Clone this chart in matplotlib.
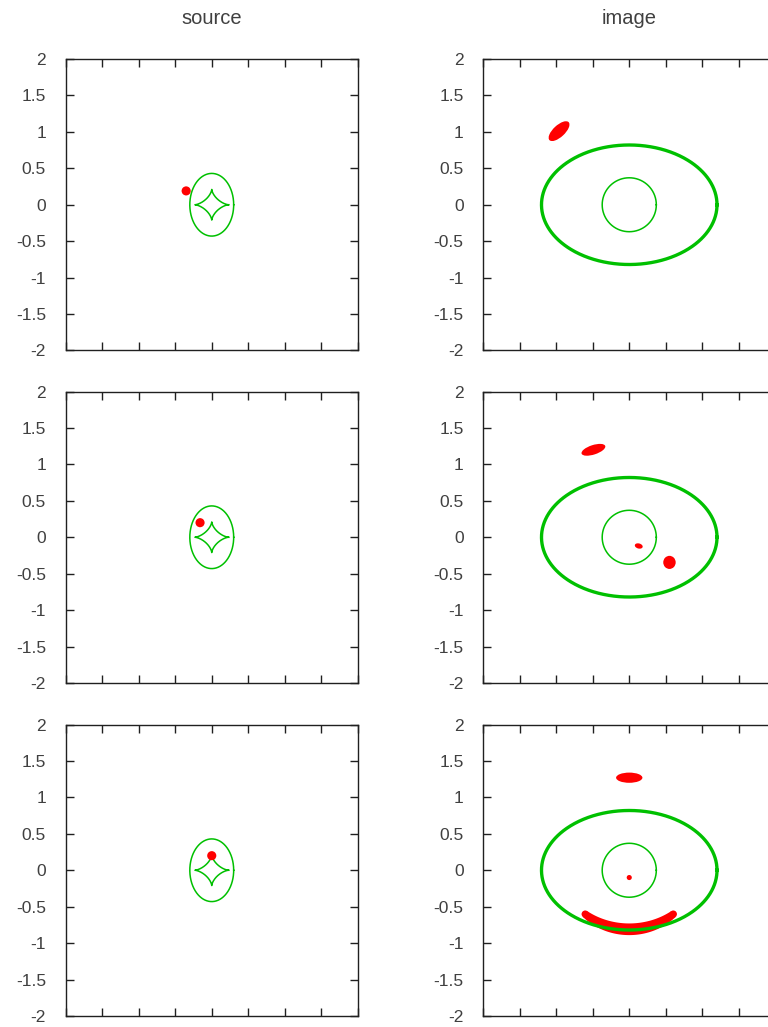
import numpy as np
import matplotlib
matplotlib.use("Agg")
import matplotlib.pyplot as plt
from matplotlib.patches import Ellipse, Polygon

plt.rcParams['font.family'] = ['Liberation Sans', 'DejaVu Sans']

# ---------------- data ----------------
col_titles = ["source", "image"]
tick_values = [-2, -1.5, -1, -0.5, 0, 0.5, 1, 1.5, 2]
tick_labels = ["-2", "-1.5", "-1", "-0.5", "0", "0.5", "1", "1.5", "2"]

# caustics in the source plane
caustic_ellipse_axes = (0.30, 0.43)      # semi-axes (x, y)
caustic_astroid_axes = (0.23, 0.21)      # half-widths (x, y)
# critical curves in the image plane
critical_outer_axes = (1.20, 0.82)
critical_inner_radius = 0.37

# source positions per row
source_x = [-0.35, -0.16, 0.0]
source_y = [0.19, 0.20, 0.20]
source_size = 0.125

# images per row: (x, y, width, height, angle)
image_blobs = [
    [(-0.96, 1.01, 0.36, 0.16, 43)],
    [(-0.49, 1.20, 0.34, 0.13, 18), (0.13, -0.12, 0.11, 0.07, -15), (0.55, -0.345, 0.17, 0.18, 0)],
    [(0.0, 1.27, 0.36, 0.14, 0), (0.0, -0.10, 0.07, 0.07, 0)],
]
# tangential arc in the last row: centreline semi-axes, half angular span (deg),
# thickness at middle and at the ends
arc_axes = (0.90, 0.81)
arc_half_span = 42
arc_thickness = (0.16, 0.10)

GREEN = '#00c000'
RED = '#ff0000'
TXT = '#404040'

fig = plt.figure(figsize=(7.68, 10.27), dpi=100)
W, H = 768.0, 1027.0
col_left = [65.5, 483.0]
row_top = [59.0, 391.5, 724.5]
aw, ah = 292.5, 291.5

t = np.linspace(0, 2 * np.pi, 721)

for r in range(3):
    for c in range(2):
        ax = fig.add_axes([col_left[c] / W, 1 - (row_top[r] + ah) / H, aw / W, ah / H])
        ax.set_xlim(-2, 2)
        ax.set_ylim(-2, 2)
        ax.set_xticks(tick_values)
        ax.set_yticks(tick_values)
        ax.set_yticklabels(tick_labels)
        ax.tick_params(direction='in', length=6, width=1, top=True, right=True,
                       labelbottom=False, labelsize=12.5, labelcolor=TXT,
                       color='#202020', pad=14)
        for s in ax.spines.values():
            s.set_linewidth(1.0)
            s.set_color('#202020')
        if r == 0:
            ax.set_title(col_titles[c], fontsize=14.5, color=TXT, pad=25)

        if c == 0:
            a, b = caustic_ellipse_axes
            ax.plot(a * np.cos(t), b * np.sin(t), color=GREEN, lw=1.1, zorder=2)
            A, B = caustic_astroid_axes
            ax.plot(A * np.cos(t) ** 3, B * np.sin(t) ** 3, color=GREEN, lw=1.1, zorder=2)
            ax.add_patch(Ellipse((source_x[r], source_y[r]), source_size, source_size,
                                 color=RED, zorder=3, lw=0))
        else:
            a, b = critical_outer_axes
            ax.plot(a * np.cos(t), b * np.sin(t), color=GREEN, lw=2.4, zorder=4)
            ri = critical_inner_radius
            ax.plot(ri * np.cos(t), ri * np.sin(t), color=GREEN, lw=1.1, zorder=4)
            for (x, y, w, h, ang) in image_blobs[r]:
                ax.add_patch(Ellipse((x, y), w, h, angle=ang, color=RED, lw=0, zorder=3))
            if r == 2:
                aa, bb = arc_axes
                t0 = np.deg2rad(arc_half_span)
                tt = np.linspace(-t0, t0, 200)
                cx = aa * np.sin(tt)
                cy = -bb * np.cos(tt)
                dx = aa * np.cos(tt)
                dy = bb * np.sin(tt)
                nrm = np.hypot(dx, dy)
                nx, ny = -dy / nrm, dx / nrm
                tm, te = arc_thickness
                th = te + (tm - te) * (1 - (tt / t0) ** 2)
                xo = np.concatenate([cx + nx * th / 2, (cx - nx * th / 2)[::-1]])
                yo = np.concatenate([cy + ny * th / 2, (cy - ny * th / 2)[::-1]])
                ax.add_patch(Polygon(np.column_stack([xo, yo]), closed=True,
                                     color=RED, lw=0, zorder=3))
                for k in (0, -1):
                    ax.add_patch(Ellipse((cx[k], cy[k]), te, te, color=RED, lw=0, zorder=3))

fig.savefig("out.png", dpi=100, facecolor='white')
